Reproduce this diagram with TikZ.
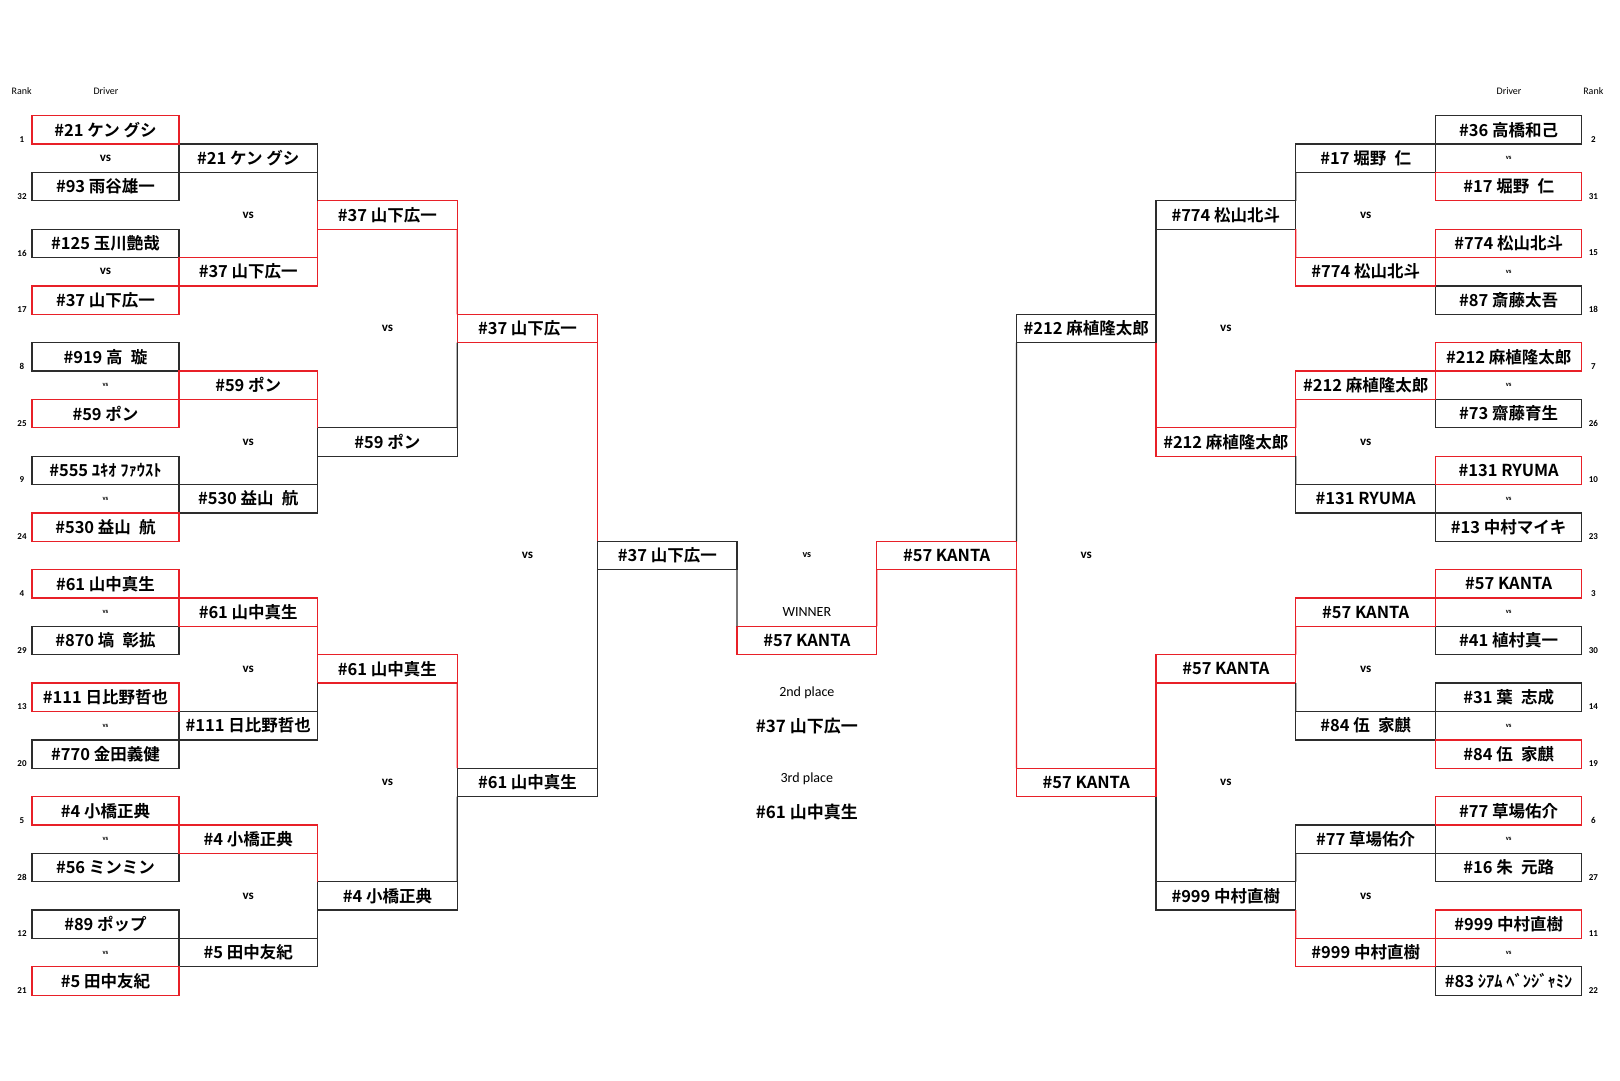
\documentclass[tikz,border=0pt]{standalone}
\usepackage{fontspec}
\setmainfont{Carlito}
\newfontfamily\jp{Noto Sans CJK JP Bold}
\definecolor{rd}{RGB}{232,32,40}
\definecolor{bk}{RGB}{45,45,45}
\def\xA{32}\def\xB{179}\def\xC{317.5}\def\xD{457.3}\def\xE{597.7}\def\xF{737}
\def\xG{876.7}\def\xH{1016.5}\def\xI{1156}\def\xJ{1295.7}\def\xK{1435.7}\def\xL{1581.7}
\newcommand\js{\hspace{0.5em}}
\newcommand\bx[6]{\node[#5, minimum width={(#3-#2)*1pt}] (#1) at ({(#2+#3)/2},{115.7+(#4+0.5)*28.37}) {#6};}
\tikzset{
 box/.style={draw, line width=1.3pt, inner sep=0pt, outer sep=0pt, minimum height=28.37pt, font=\jp\fontsize{16.5}{18}\selectfont, text=black},
 rb/.style={box, draw=rd},
 kb/.style={box, draw=bk},
 vsbig/.style={font=\bfseries\fontsize{13}{14}\selectfont, inner sep=0pt},
 vsmid/.style={font=\bfseries\fontsize{10}{11}\selectfont, inner sep=0pt},
 vssmall/.style={font=\bfseries\fontsize{6.5}{7}\selectfont, inner sep=0pt},
 ranklab/.style={font=\bfseries\fontsize{9}{10}\selectfont, inner sep=0pt},
 headlab/.style={font=\fontsize{10}{11}\selectfont, inner sep=0pt},
 midlab/.style={font=\fontsize{14}{15}\selectfont, inner sep=0pt},
 midname/.style={font=\jp\fontsize{17}{18}\selectfont, inner sep=0pt},
 rl/.style={line width=1.3pt, draw=rd},
 kl/.style={line width=1.3pt, draw=bk},
}
\begin{document}
\begin{tikzpicture}[x=1pt,y=-1pt]
\fill[white] (0,0) rectangle (1620,1080);
\useasboundingbox (0,0) rectangle (1620,1080);
% headers
\node[headlab] (hRankL) at (21.7,90.7) {Rank};
\node[headlab] (hDrvL) at (106,90.7) {Driver};
\node[headlab] (hDrvR) at (1509,90.7) {Driver};
\node[headlab] (hRankR) at (1593.3,90.7) {Rank};
% ---------- black boxes ----------
\bx{L1r2}{\xA}{\xB}{2}{kb}{\#93 雨谷雄一}
\bx{L1r4}{\xA}{\xB}{4}{kb}{\#125 玉川艶哉}
\bx{L1r8}{\xA}{\xB}{8}{kb}{\#919 高\js 璇}
\bx{L1r12}{\xA}{\xB}{12}{kb}{\#555 ﾕｷｵ ﾌｧｳｽﾄ}
\bx{L1r18}{\xA}{\xB}{18}{kb}{\#870 塙\js 彰拡}
\bx{L1r22}{\xA}{\xB}{22}{kb}{\#770 金田義健}
\bx{L1r26}{\xA}{\xB}{26}{kb}{\#56 ミンミン}
\bx{L1r28}{\xA}{\xB}{28}{kb}{\#89 ポップ}
\bx{L2r1}{\xB}{\xC}{1}{kb}{\#21 ケン グシ}
\bx{L2r13}{\xB}{\xC}{13}{kb}{\#530 益山\js 航}
\bx{L2r21}{\xB}{\xC}{21}{kb}{\#111 日比野哲也}
\bx{L2r29}{\xB}{\xC}{29}{kb}{\#5 田中友紀}
\bx{L3r11}{\xC}{\xD}{11}{kb}{\#59 ポン}
\bx{L3r27}{\xC}{\xD}{27}{kb}{\#4 小橋正典}
\bx{L4r23}{\xD}{\xE}{23}{kb}{\#61 山中真生}
\bx{L5r15}{\xE}{\xF}{15}{kb}{\#37 山下広一}
\bx{R4r7}{\xH}{\xI}{7}{kb}{\#212 麻植隆太郎}
\bx{R3r3}{\xI}{\xJ}{3}{kb}{\#774 松山北斗}
\bx{R3r27}{\xI}{\xJ}{27}{kb}{\#999 中村直樹}
\bx{R2r1}{\xJ}{\xK}{1}{kb}{\#17 堀野\js 仁}
\bx{R2r13}{\xJ}{\xK}{13}{kb}{\#131 RYUMA}
\bx{R2r21}{\xJ}{\xK}{21}{kb}{\#84 伍\js 家麒}
\bx{R2r25}{\xJ}{\xK}{25}{kb}{\#77 草場佑介}
\bx{R1r0}{\xK}{\xL}{0}{kb}{\#36 高橋和己}
\bx{R1r6}{\xK}{\xL}{6}{kb}{\#87 斎藤太吾}
\bx{R1r10}{\xK}{\xL}{10}{kb}{\#73 齋藤育生}
\bx{R1r14}{\xK}{\xL}{14}{kb}{\#13 中村マイキ}
\bx{R1r18}{\xK}{\xL}{18}{kb}{\#41 植村真一}
\bx{R1r20}{\xK}{\xL}{20}{kb}{\#31 葉\js 志成}
\bx{R1r26}{\xK}{\xL}{26}{kb}{\#16 朱\js 元路}
\bx{R1r30}{\xK}{\xL}{30}{kb}{\#83 ｼｱﾑ ﾍﾞﾝｼﾞｬﾐﾝ}
% ---------- red boxes ----------
\bx{L1r0}{\xA}{\xB}{0}{rb}{\#21 ケン グシ}
\bx{L1r6}{\xA}{\xB}{6}{rb}{\#37 山下広一}
\bx{L1r10}{\xA}{\xB}{10}{rb}{\#59 ポン}
\bx{L1r14}{\xA}{\xB}{14}{rb}{\#530 益山\js 航}
\bx{L1r16}{\xA}{\xB}{16}{rb}{\#61 山中真生}
\bx{L1r20}{\xA}{\xB}{20}{rb}{\#111 日比野哲也}
\bx{L1r24}{\xA}{\xB}{24}{rb}{\#4 小橋正典}
\bx{L1r30}{\xA}{\xB}{30}{rb}{\#5 田中友紀}
\bx{L2r5}{\xB}{\xC}{5}{rb}{\#37 山下広一}
\bx{L2r9}{\xB}{\xC}{9}{rb}{\#59 ポン}
\bx{L2r17}{\xB}{\xC}{17}{rb}{\#61 山中真生}
\bx{L2r25}{\xB}{\xC}{25}{rb}{\#4 小橋正典}
\bx{L3r3}{\xC}{\xD}{3}{rb}{\#37 山下広一}
\bx{L3r19}{\xC}{\xD}{19}{rb}{\#61 山中真生}
\bx{L4r7}{\xD}{\xE}{7}{rb}{\#37 山下広一}
\bx{W}{\xF}{\xG}{18}{rb}{\#57 KANTA}
\bx{R5r15}{\xG}{\xH}{15}{rb}{\#57 KANTA}
\bx{R4r23}{\xH}{\xI}{23}{rb}{\#57 KANTA}
\bx{R3r11}{\xI}{\xJ}{11}{rb}{\#212 麻植隆太郎}
\bx{R3r19}{\xI}{\xJ}{19}{rb}{\#57 KANTA}
\bx{R2r5}{\xJ}{\xK}{5}{rb}{\#774 松山北斗}
\bx{R2r9}{\xJ}{\xK}{9}{rb}{\#212 麻植隆太郎}
\bx{R2r17}{\xJ}{\xK}{17}{rb}{\#57 KANTA}
\bx{R2r29}{\xJ}{\xK}{29}{rb}{\#999 中村直樹}
\bx{R1r2}{\xK}{\xL}{2}{rb}{\#17 堀野\js 仁}
\bx{R1r4}{\xK}{\xL}{4}{rb}{\#774 松山北斗}
\bx{R1r8}{\xK}{\xL}{8}{rb}{\#212 麻植隆太郎}
\bx{R1r12}{\xK}{\xL}{12}{rb}{\#131 RYUMA}
\bx{R1r16}{\xK}{\xL}{16}{rb}{\#57 KANTA}
\bx{R1r22}{\xK}{\xL}{22}{rb}{\#84 伍\js 家麒}
\bx{R1r24}{\xK}{\xL}{24}{rb}{\#77 草場佑介}
\bx{R1r28}{\xK}{\xL}{28}{rb}{\#999 中村直樹}
% ---------- connectors, left ----------
\draw[kl] (L2r1.south east) -- (L3r3.north west);
\draw[rl] (L3r3.south west) -- (L2r5.north east);
\draw[rl] (L2r9.south east) -- (L3r11.north west);
\draw[kl] (L3r11.south west) -- (L2r13.north east);
\draw[rl] (L2r17.south east) -- (L3r19.north west);
\draw[kl] (L3r19.south west) -- (L2r21.north east);
\draw[rl] (L2r25.south east) -- (L3r27.north west);
\draw[kl] (L3r27.south west) -- (L2r29.north east);
\draw[rl] (L3r3.south east) -- (L4r7.north west);
\draw[kl] (L4r7.south west) -- (L3r11.north east);
\draw[rl] (L3r19.south east) -- (L4r23.north west);
\draw[kl] (L4r23.south west) -- (L3r27.north east);
\draw[rl] (L4r7.south east) -- (L5r15.north west);
\draw[kl] (L5r15.south west) -- (L4r23.north east);
% final
\draw[kl] (L5r15.south east) -- (W.north west);
\draw[rl] (R5r15.south west) -- (W.north east);
% ---------- connectors, right ----------
\draw[kl] (R4r7.south west) -- (R5r15.north east);
\draw[rl] (R5r15.south east) -- (R4r23.north west);
\draw[kl] (R3r3.south west) -- (R4r7.north east);
\draw[rl] (R4r7.south east) -- (R3r11.north west);
\draw[rl] (R3r19.south west) -- (R4r23.north east);
\draw[kl] (R4r23.south east) -- (R3r27.north west);
\draw[kl] (R2r1.south west) -- (R3r3.north east);
\draw[rl] (R3r3.south east) -- (R2r5.north west);
\draw[rl] (R2r9.south west) -- (R3r11.north east);
\draw[kl] (R3r11.south east) -- (R2r13.north west);
\draw[rl] (R2r17.south west) -- (R3r19.north east);
\draw[kl] (R3r19.south east) -- (R2r21.north west);
\draw[kl] (R2r25.south west) -- (R3r27.north east);
\draw[rl] (R3r27.south east) -- (R2r29.north west);
% ---------- vs labels ----------
\node[vsbig] (vL1a) at (105.5,{115.7+1.5*28.37}) {vs};
\node[vsbig] (vL1b) at (105.5,{115.7+5.5*28.37}) {vs};
\foreach \r in {9,13,17,21,25,29}{
  \node[vssmall] (vL1-\r) at (105.5,{115.7+(\r+0.5)*28.37}) {vs};}
\foreach \r in {1,5,9,13,17,21,25,29}{
  \node[vssmall] (vR1-\r) at (1508.7,{115.7+(\r+0.5)*28.37}) {vs};}
\foreach \r in {3,11,19,27}{
  \node[vsbig] (vL2-\r) at (248.25,{115.7+(\r+0.5)*28.37}) {vs};
  \node[vsbig] (vR2-\r) at (1365.7,{115.7+(\r+0.5)*28.37}) {vs};}
\foreach \r in {7,23}{
  \node[vsbig] (vL3-\r) at (387.4,{115.7+(\r+0.5)*28.37}) {vs};
  \node[vsbig] (vR3-\r) at (1225.85,{115.7+(\r+0.5)*28.37}) {vs};}
\node[vsbig] (vL4) at (527.5,{115.7+15.5*28.37}) {vs};
\node[vsbig] (vR4) at (1086.25,{115.7+15.5*28.37}) {vs};
\node[vsmid] (vF) at (806.85,{115.7+15.5*28.37}) {vs};
% ---------- ranks ----------
\foreach \r/\k in {0/1,2/32,4/16,6/17,8/8,10/25,12/9,14/24,16/4,18/29,20/13,22/20,24/5,26/28,28/12,30/21}{
  \node[ranklab] (rkL-\r) at (22,{115.7+(\r+1)*28.37-4.5}) {\k};}
\foreach \r/\k in {0/2,2/31,4/15,6/18,8/7,10/26,12/10,14/23,16/3,18/30,20/14,22/19,24/6,26/27,28/11,30/22}{
  \node[ranklab] (rkR-\r) at (1593.3,{115.7+(\r+1)*28.37-4.5}) {\k};}
% ---------- centre texts ----------
\node[midlab] (winlab) at (806.85,612) {WINNER};
\node[midlab] (seclab) at (806.85,692.7) {2nd place};
\node[midname] (secname) at (806.85,726) {\#37 山下広一};
\node[midlab] (thrlab) at (806.85,778.7) {3rd place};
\node[midname] (thrname) at (806.85,812) {\#61 山中真生};
\end{tikzpicture}
\end{document}
